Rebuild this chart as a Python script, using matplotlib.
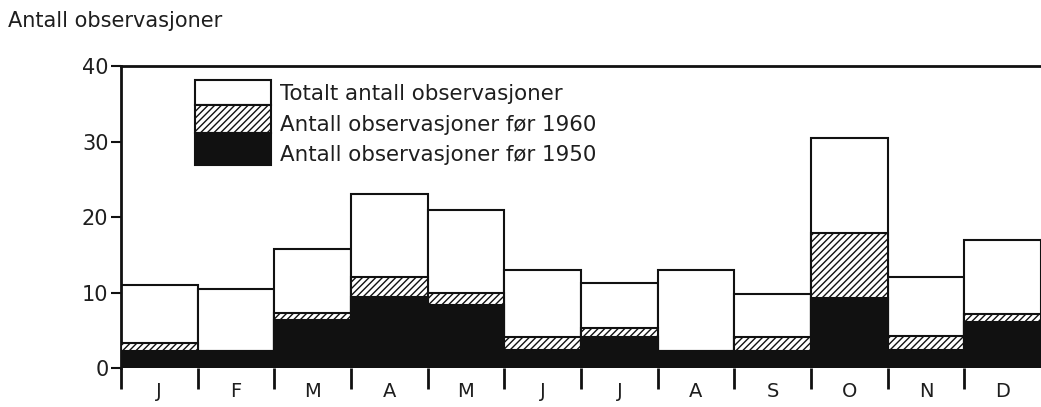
import matplotlib
matplotlib.use("Agg")
import matplotlib.pyplot as plt
from matplotlib.patches import Rectangle
import numpy as np

plt.rcParams['font.family'] = ['DejaVu Sans']
plt.rcParams['hatch.linewidth'] = 1.0

months = ["J", "F", "M", "A", "M", "J", "J", "A", "S", "O", "N", "D"]
total = [11.0, 10.5, 15.8, 23.0, 20.9, 13.0, 11.2, 13.0, 9.8, 30.5, 12.1, 17.0]
before_1960 = [3.3, 2.2, 7.3, 12.0, 9.9, 4.1, 5.3, 2.2, 4.1, 17.9, 4.2, 7.2]
before_1950 = [2.3, 2.2, 6.4, 9.4, 8.3, 2.4, 4.1, 2.2, 2.2, 9.3, 2.4, 6.1]
labels = ["Totalt antall observasjoner",
          "Antall observasjoner før 1960",
          "Antall observasjoner før 1950"]
yticks = [0, 10, 20, 30, 40]

fig = plt.figure(figsize=(10.41, 4.07), dpi=100)
ax = fig.add_axes([0.1162, 0.0958, 0.8838, 0.7420])

x = np.arange(len(months))
ink = "#111111"
txt = "#1e1e1e"
ax.bar(x, total, width=1.0, color="white", edgecolor=ink, linewidth=1.5, zorder=2)
ax.bar(x, before_1960, width=1.0, color="white", edgecolor=ink, linewidth=1.5,
       hatch="/////", zorder=3)
ax.bar(x, before_1950, width=1.0, color=ink, edgecolor=ink, linewidth=1.5, zorder=4)

ax.set_xlim(-0.5, len(months) - 0.5)
ax.set_ylim(0, 40)

ax.spines['right'].set_visible(False)
ax.spines['bottom'].set_visible(False)
ax.spines['left'].set_linewidth(2)
ax.spines['top'].set_linewidth(2)
ax.spines['left'].set_color(ink)
ax.spines['top'].set_color(ink)

ax.set_yticks(yticks)
ax.set_yticklabels([str(v) for v in yticks], fontsize=15)
ax.tick_params(axis='y', direction='out', length=7, width=1.5, pad=2, colors=ink,
               labelcolor=txt)

ax.set_xticks(x)
ax.set_xticklabels(months, fontsize=14, color=txt)
ax.tick_params(axis='x', which='major', length=0, pad=10)
ax.set_xticks(np.arange(len(months)) - 0.5, minor=True)
ax.tick_params(axis='x', which='minor', direction='out', length=15, width=2, colors=ink)

# legend (manual)
fills = ["white", "white", ink]
hatches = [None, "/////", None]
lx0, lw = 0.0806, 0.0827
bounds = [(0.871, 0.954), (0.778, 0.871), (0.672, 0.778)]
text_y = [0.886, 0.786, 0.684]
for fc, ht, (b0, b1), ty, lab in zip(fills, hatches, bounds, text_y, labels):
    r = Rectangle((lx0, b0), lw, b1 - b0, transform=ax.transAxes, facecolor=fc,
                  edgecolor=ink, linewidth=1.5, hatch=ht, zorder=6, clip_on=False)
    ax.add_patch(r)
    ax.text(0.173, ty, lab, transform=ax.transAxes, fontsize=15.4,
            va="baseline", ha="left", color=txt, zorder=7)

fig.text(8 / 1041, 1 - 21 / 407, "Antall observasjoner", fontsize=15, va="center",
         ha="left", color=txt)

fig.savefig("out.png", dpi=100)
